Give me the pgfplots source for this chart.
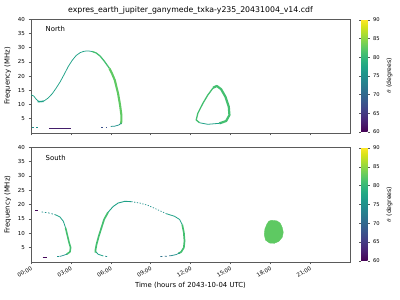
\documentclass[border=0pt]{standalone}
\usepackage{fontspec}
\setmainfont{DejaVu Sans}
\usepackage{pgfplots}
\pgfplotsset{compat=1.18}
\definecolor{axgray}{HTML}{5A5A5A}
\definecolor{vP}{HTML}{46085C}
\definecolor{vB}{HTML}{3B528B}
\definecolor{vT}{HTML}{21918C}
\definecolor{vT2}{HTML}{1FA187}
\definecolor{vG}{HTML}{44BF70}
\definecolor{vG2}{HTML}{5EC962}
\pgfplotsset{
  myax/.style={
    scale only axis, width=319pt, xmin=0, xmax=24, ymin=0, ymax=40,
    xtick={0,3,...,21}, ytick={5,10,...,40},
    xtick pos=bottom, ytick pos=left,
    tick align=outside, major tick length=2.5pt,
    axis line style={draw=axgray, line width=0.6pt},
    tick style={draw=axgray, line width=0.5pt},
    tick label style={font=\fontsize{5.5}{6}\selectfont},
    label style={font=\fontsize{6.9}{8}\selectfont},
    /pgf/number format/assume math mode=true,
    ylabel={Frequency (MHz)},
    colormap/viridis, colorbar, point meta min=60, point meta max=90,
    colorbar style={
      at={(1.0345,0.01)}, anchor=south west, width=6.5pt,
      ytick={60,65,...,90}, tick align=outside, major tick length=2pt,
      /pgf/number format/assume math mode=true,
      yticklabel style={font=\fontsize{5.2}{6}\selectfont},
      ylabel style={font=\fontsize{6.2}{7}\selectfont},
      ylabel={$\theta$ (degrees)},
      axis line style={draw=none}, tick style={draw=axgray},
    },
    every axis plot/.append style={no marks, line join=round, line cap=butt},
  },
}
\begin{document}
\begin{tikzpicture}
\path[use as bounding box] (0pt,0pt) rectangle (400pt,300pt);
% ---------------- North ----------------
\begin{axis}[myax, height=114pt, at={(31pt,167pt)}, anchor=south west,
  xticklabels={},
  colorbar style={height=112pt},
  title={expres\_earth\_jupiter\_ganymede\_txka-y235\_20431004\_v14.cdf},
  title style={font=\fontsize{7.8}{9}\selectfont, yshift=-4.5pt},
]
\addplot[color=vT2, line width=0.75pt] coordinates {
(0.0,13.4) (0.2,13.0) (0.4,11.8) (0.6,11.0) (0.8,11.0) (1.0,11.3) (1.3,12.3)
(1.6,13.8) (1.9,15.8) (2.2,18.0) (2.5,20.6) (2.8,23.3) (3.1,25.5) (3.4,27.2)
(3.7,28.2) (4.0,28.7) (4.3,28.8) (4.6,28.6)};
\addplot[color=vT2, line width=1.4pt] coordinates {(0.5,11.0) (0.95,11.1)};
\addplot[color=vG, line width=1.3pt] coordinates {
(4.6,28.6) (4.9,28.1) (5.2,27.0) (5.5,25.3) (5.9,22.7)};
\addplot[color=vG2, line width=2.1pt] coordinates {
(5.9,22.7) (6.1,20.8) (6.3,18.6) (6.55,13.9) (6.7,9.8) (6.8,6.3) (6.8,4.0) (6.75,3.2)};
\addplot[color=vT, line width=0.75pt] coordinates {(6.8,3.4) (6.6,2.8) (6.3,2.4) (6.0,2.3)};
\addplot[color=vB, line width=0.75pt, dash pattern=on 2pt off 2.5pt] coordinates {(5.3,2.0) (5.75,2.0)};
\addplot[color=vT, line width=0.75pt, dash pattern=on 2pt off 2.5pt] coordinates {(0.05,2.0) (0.6,2.0)};
\addplot[color=vP!70!vB, line width=0.8pt] coordinates {(1.35,1.5) (3.0,1.5)};
% loop
\addplot[color=vG, line width=1.3pt] coordinates {
(12.68,3.6) (12.43,4.56) (12.55,6.9) (12.93,10.4) (13.3,13.3) (13.68,15.7) (13.98,16.5)};
\addplot[color=vG, line width=2.2pt] coordinates {
(13.7,15.9) (13.98,16.5) (14.3,15.4) (14.63,12.7) (14.88,9.2) (14.93,6.3) (14.68,4.2) (14.18,3.4)};
\addplot[color=vT2, line width=0.8pt] coordinates {(14.3,3.4) (14.18,3.4) (13.3,3.05) (12.68,3.6)};
\node[anchor=west, font=\fontsize{6.9}{8}\selectfont] at (rel axis cs:0.035,0.91) {North};
\end{axis}
% ---------------- South ----------------
\begin{axis}[myax, height=115pt, at={(31pt,38pt)}, anchor=south west,
  xticklabels={00:00,03:00,06:00,09:00,12:00,15:00,18:00,21:00},
  xticklabel style={rotate=30, anchor=north east, inner sep=1pt},
  xlabel={Time (hours of 2043-10-04 UTC)},
  colorbar style={height=113pt},
]
\addplot[color=vP, line width=0.8pt] coordinates {(0.3,17.9) (0.5,17.9)};
\addplot[color=vT, line width=0.75pt, dash pattern=on 1.5pt off 1.8pt] coordinates {(0.8,17.4) (1.3,17.1) (1.8,16.5)};
\addplot[color=vT2, line width=0.8pt] coordinates {(1.8,16.5) (2.17,15.7) (2.43,14.2) (2.6,11.9)};
\addplot[color=vG, line width=1.6pt] coordinates {(2.6,11.9) (2.75,9.0) (2.87,6.7) (2.98,5.0) (2.93,3.5) (2.68,2.7)};
\addplot[color=vT, line width=0.75pt] coordinates {(2.7,2.7) (2.3,2.1) (2.15,1.95)};
\addplot[color=vT, line width=0.75pt, dash pattern=on 1.5pt off 2pt] coordinates {(2.1,1.9) (1.9,1.9)};
\addplot[color=vP, line width=0.8pt] coordinates {(0.88,1.55) (1.18,1.55)};
% second arc
\addplot[color=vT, line width=0.75pt, dash pattern=on 2pt off 2pt] coordinates {(5.73,1.9) (5.43,2.1)};
\addplot[color=vT2, line width=0.8pt] coordinates {(5.43,2.1) (5.05,2.7) (4.87,3.6)};
\addplot[color=vG, line width=1.7pt] coordinates {(4.85,3.3) (4.85,4.1) (4.93,6.1) (5.1,9.0) (5.3,11.9) (5.5,14.8) (5.8,17.3)};
\addplot[color=vT2, line width=0.9pt] coordinates {(5.8,17.3) (6.18,19.3) (6.55,20.5) (7.05,21.1) (7.55,21.0)};
\addplot[color=vT, line width=0.75pt, dash pattern=on 1.2pt off 1.6pt] coordinates {(7.55,21.0) (8.18,20.5) (8.8,19.7) (9.43,18.4) (10.18,16.8)};
\addplot[color=vT2, line width=0.8pt] coordinates {(10.18,16.8) (10.8,15.9) (11.18,14.8) (11.38,13.0)};
\addplot[color=vG, line width=1.7pt] coordinates {(11.38,13.0) (11.5,10.2) (11.55,7.3) (11.5,5.0) (11.3,3.5) (11.1,3.0)};
\addplot[color=vT, line width=0.75pt] coordinates {(11.2,3.2) (10.93,2.6) (10.55,2.2)};
\addplot[color=vB!50!vT, line width=0.75pt, dash pattern=on 2pt off 2.5pt] coordinates {(10.55,2.2) (9.93,1.9) (9.6,1.9)};
% blob
\addplot[draw=vG2, fill=vG2, line width=0.4pt] coordinates {
(18.1,14.5) (18.5,14.3) (18.75,13.5) (18.9,12.0) (18.98,10.3) (18.9,8.6) (18.65,7.2)
(18.3,6.5) (17.95,6.6) (17.65,7.6) (17.55,9.5) (17.6,11.5) (17.75,13.2) (17.9,14.2)} -- cycle;
\node[anchor=west, font=\fontsize{6.9}{8}\selectfont] at (rel axis cs:0.035,0.905) {South};
\end{axis}
\end{tikzpicture}
\end{document}
